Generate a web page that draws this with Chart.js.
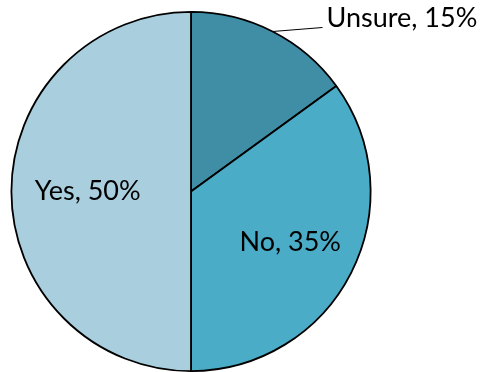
<!DOCTYPE html>
<html>
<head>
<meta charset="utf-8">
<script src="https://cdn.jsdelivr.net/npm/chart.js@4/dist/chart.umd.min.js"></script>
<style>
  html, body { margin: 0; padding: 0; background: #ffffff; }
  #wrap { position: relative; width: 491px; height: 372px; }
</style>
</head>
<body>
<div id="wrap"><canvas id="c" width="491" height="372"></canvas></div>
<script>
// Survey answers and their shares (percent)
const categories = ['Unsure', 'No', 'Yes'];
const shares = [15, 35, 50];
const sliceColors = ['#3f8ea5', '#4aacc6', '#a9cfde'];

// Label placement: 'inside' labels sit along the slice's mid-angle,
// 'outside' labels get a short leader line from the rim.
const labelPlacement = [
  { mode: 'outside' },
  { mode: 'inside', frac: 0.62 },
  { mode: 'inside', frac: 0.575 }
];

const FONT = '27px Lato, "Open Sans", sans-serif';

const sliceLabels = {
  id: 'sliceLabels',
  afterDatasetsDraw(chart) {
    const ctx = chart.ctx;
    const meta = chart.getDatasetMeta(0);
    ctx.save();
    ctx.font = FONT;
    ctx.fillStyle = '#000000';
    meta.data.forEach((arc, i) => {
      const p = arc.getProps(['x', 'y', 'startAngle', 'endAngle', 'outerRadius'], true);
      const mid = (p.startAngle + p.endAngle) / 2;
      const text = categories[i] + ', ' + shares[i] + '%';
      const place = labelPlacement[i];
      if (place.mode === 'inside') {
        const r = p.outerRadius * place.frac;
        ctx.textAlign = 'center';
        ctx.textBaseline = 'middle';
        ctx.fillText(text, p.x + Math.cos(mid) * r, p.y + Math.sin(mid) * r);
      } else {
        const sx = p.x + Math.cos(mid) * p.outerRadius;
        const sy = p.y + Math.sin(mid) * p.outerRadius;
        const ex = sx + 50, ey = sy - 4;
        ctx.strokeStyle = '#000000';
        ctx.lineWidth = 1.2;
        ctx.beginPath();
        ctx.moveTo(sx, sy);
        ctx.lineTo(ex, ey);
        ctx.stroke();
        ctx.textAlign = 'left';
        ctx.textBaseline = 'alphabetic';
        ctx.fillText(text, ex + 4, ey);
      }
    });
    ctx.restore();
  }
};

new Chart(document.getElementById('c'), {
  type: 'pie',
  data: {
    labels: categories,
    datasets: [{
      data: shares,
      backgroundColor: sliceColors,
      borderColor: '#000000',
      borderWidth: 1.8,
      hoverOffset: 0
    }]
  },
  options: {
    responsive: false,
    animation: false,
    events: [],
    layout: { padding: { left: 10, top: 11, right: 119, bottom: 0 } },
    plugins: {
      legend: { display: false },
      tooltip: { enabled: false }
    }
  },
  plugins: [sliceLabels]
});
</script>
</body>
</html>
